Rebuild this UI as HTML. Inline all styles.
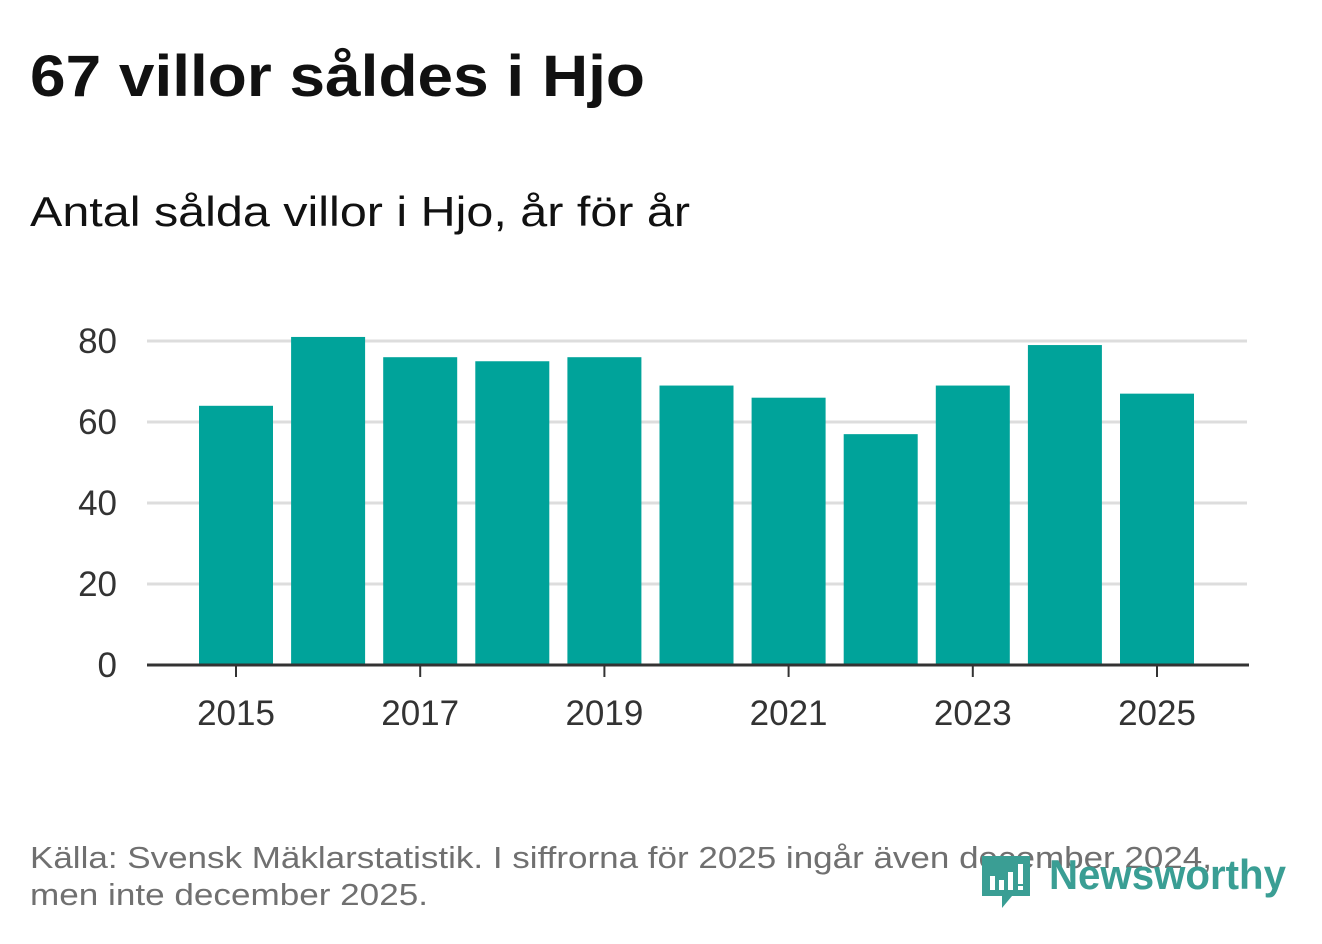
<!DOCTYPE html>
<html><head><meta charset="utf-8"><style>
body{margin:0;width:1322px;height:939px;background:#fff;overflow:hidden;font-family:"Liberation Sans","DejaVu Sans",sans-serif}
</style></head><body>
<svg width="1322" height="939" xmlns="http://www.w3.org/2000/svg">
<text x="30" y="96" font-size="58" font-weight="bold" fill="#111" textLength="615" lengthAdjust="spacingAndGlyphs">67 villor såldes i Hjo</text>
<text x="30" y="226" font-size="42" fill="#111" textLength="660" lengthAdjust="spacingAndGlyphs">Antal sålda villor i Hjo, år för år</text>
<g id="grid"></g>
<g id="bars"></g>
<g id="axes"></g>
<text x="30" y="868" font-size="31" fill="#707070" textLength="1182" lengthAdjust="spacingAndGlyphs">Källa: Svensk Mäklarstatistik. I siffrorna för 2025 ingår även december 2024,</text>
<text x="30" y="905" font-size="31" fill="#707070" textLength="398" lengthAdjust="spacingAndGlyphs">men inte december 2025.</text>
<g>
<path d="M982 856 h48 v40 h-18 l-10 12 v-12 h-20 z" fill="#3a9e94"/>
<rect x="990" y="876" width="5" height="14" fill="#fff"/><rect x="999" y="880" width="5" height="10" fill="#fff"/><rect x="1008" y="872" width="5" height="18" fill="#fff"/><rect x="1018" y="864" width="5" height="20" fill="#fff"/><rect x="1018" y="886" width="5" height="4" fill="#fff"/>
<text x="1049" y="889" font-size="42" font-weight="bold" fill="#3a9e94" textLength="237" lengthAdjust="spacingAndGlyphs">Newsworthy</text>
</g>
</svg>
<script>
const years=[2015,2016,2017,2018,2019,2020,2021,2022,2023,2024,2025];
const values=[64,81,76,75,76,69,66,57,69,79,67];
const yTicks=[0,20,40,60,80];
const xTickYears=[2015,2017,2019,2021,2023,2025];
const NS="http://www.w3.org/2000/svg";
const y=v=>665-v*4.05;
const x=yr=>236+(yr-2015)*92.1;
function mk(t,a,p){const e=document.createElementNS(NS,t);for(const k in a)e.setAttribute(k,a[k]);p.appendChild(e);return e;}
const grid=document.getElementById('grid'),bars=document.getElementById('bars'),axes=document.getElementById('axes');
yTicks.forEach(v=>{
 if(v>0){const l=mk('line',{x1:147,x2:1247,y1:y(v),y2:y(v),stroke:'#dddddd','stroke-width':3},grid);
 
 }
 const t=mk('text',{x:117,y:y(v)+12,'font-size':35,fill:'#333','text-anchor':'end'},axes);t.textContent=v;
 
 
});
years.forEach((yr,i)=>{
 const r=mk('rect',{x:x(yr)-37,y:y(values[i]),width:74,height:665-y(values[i]),fill:'#00a39a'},bars);
 
 
});
const base=mk('line',{x1:147,x2:1249,y1:665,y2:665,stroke:'#333','stroke-width':3},axes);


xTickYears.forEach(yr=>{
 const tk=mk('line',{x1:x(yr),x2:x(yr),y1:665,y2:677,stroke:'#333','stroke-width':2},axes);
 
 
 const t=mk('text',{x:x(yr),y:725,'font-size':35,fill:'#333','text-anchor':'middle'},axes);t.textContent=yr;
 
 
});
</script>
</body></html>
